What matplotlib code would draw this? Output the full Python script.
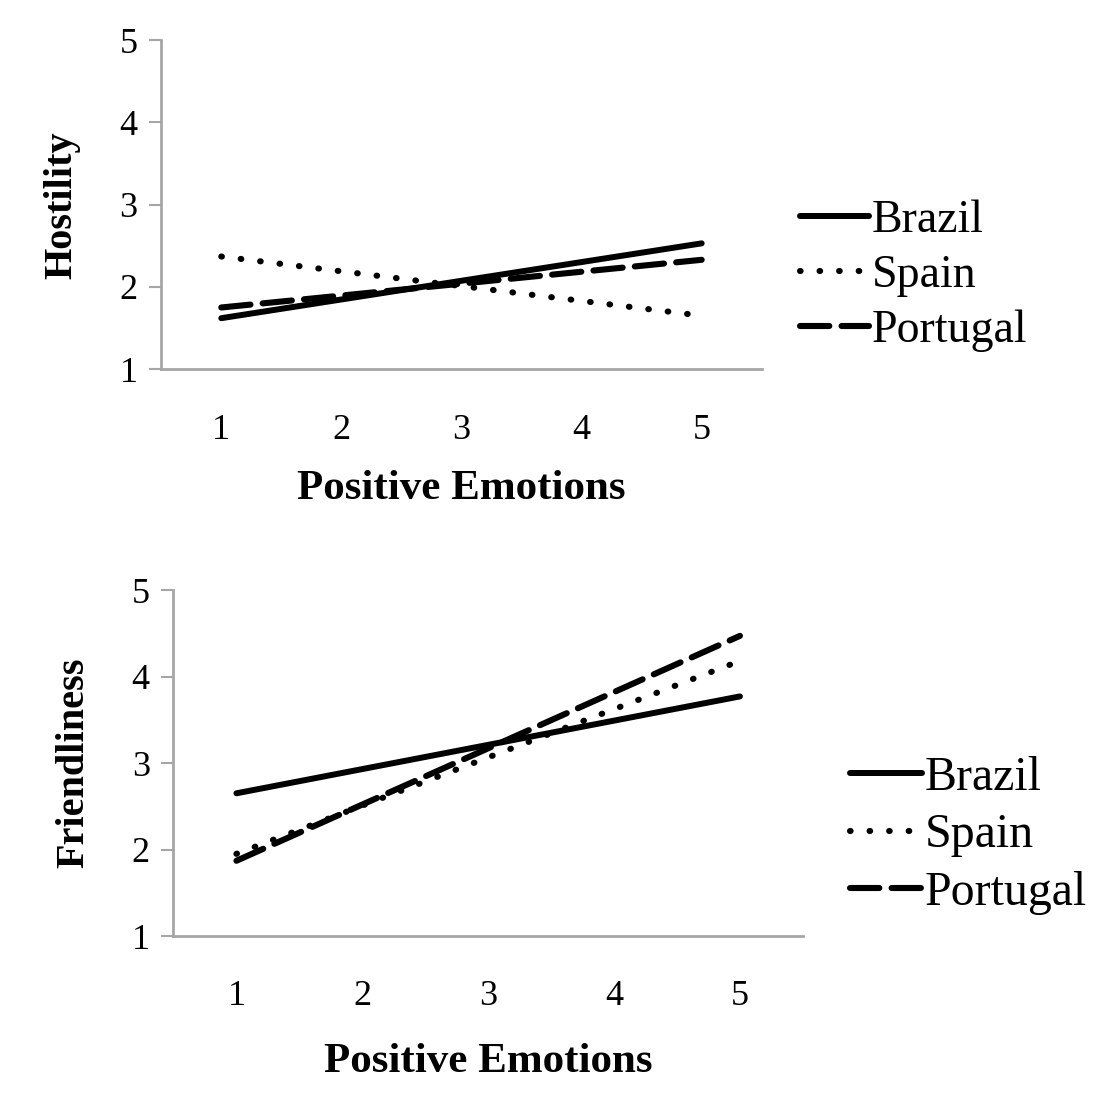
import matplotlib.pyplot as plt

plt.rcParams['font.family'] = ['Liberation Serif', 'DejaVu Serif']

x = [1, 5]
countries = ['Brazil', 'Spain', 'Portugal']
hostility = {'Brazil': [1.62, 2.53], 'Spain': [2.37, 1.65], 'Portugal': [1.75, 2.33]}
friendliness = {'Brazil': [2.65, 3.77], 'Spain': [1.95, 4.18], 'Portugal': [1.87, 4.47]}
yticks = [1, 2, 3, 4, 5]
xticks = [1, 2, 3, 4, 5]

styles = {'Brazil': dict(linestyle='-', lw=4.3, solid_capstyle='round'),
          'Spain': dict(linestyle=(0, (0.1, 3.1)), lw=4.4, dash_capstyle='round'),
          'Portugal': dict(linestyle=(0, (4.8, 2.0)), lw=4.4, dash_capstyle='round')}

fig = plt.figure(figsize=(11.12, 11.02), dpi=100)
ax1 = fig.add_axes([0.145, 0.665, 0.540, 0.2985])
ax2 = fig.add_axes([0.156, 0.1506, 0.566, 0.314])

# axes, data, y label, legend anchor, legend font size, row spacing, xlabel pad
panels = [(ax1, hostility, 'Hostility', (0.719, 0.750), 33, 0.27, 17),
          (ax2, friendliness, 'Friendliness', (0.764, 0.242), 34.5, 0.28, 21)]

for ax, data, ylab, legpos, lfs, lsp, xpad in panels:
    for c in countries:
        ax.plot(x, data[c], color='black', label=c, **styles[c])
    ax.set_xlim(0.5, 5.5)
    ax.set_ylim(1, 5)
    ax.set_xticks(xticks)
    ax.set_yticks(yticks)
    for s in ['top', 'right']:
        ax.spines[s].set_visible(False)
    for s in ['left', 'bottom']:
        ax.spines[s].set_color('#a6a6a6')
        ax.spines[s].set_linewidth(2)
    ax.tick_params(axis='y', length=9, width=1.5, color='#a6a6a6', labelsize=26, pad=8)
    ax.tick_params(axis='x', length=0, labelsize=26, pad=32)
    ax.set_ylabel(ylab, fontsize=29, fontweight='bold', labelpad=28)
    ax.set_xlabel('Positive Emotions', fontsize=31, fontweight='bold', labelpad=xpad)
    ax.legend(loc='center left', bbox_to_anchor=legpos, bbox_transform=fig.transFigure,
              frameon=False, fontsize=lfs, handlelength=1.52, handletextpad=0.05,
              labelspacing=lsp, borderpad=0, borderaxespad=0)

plt.savefig('out.png', dpi=100)
